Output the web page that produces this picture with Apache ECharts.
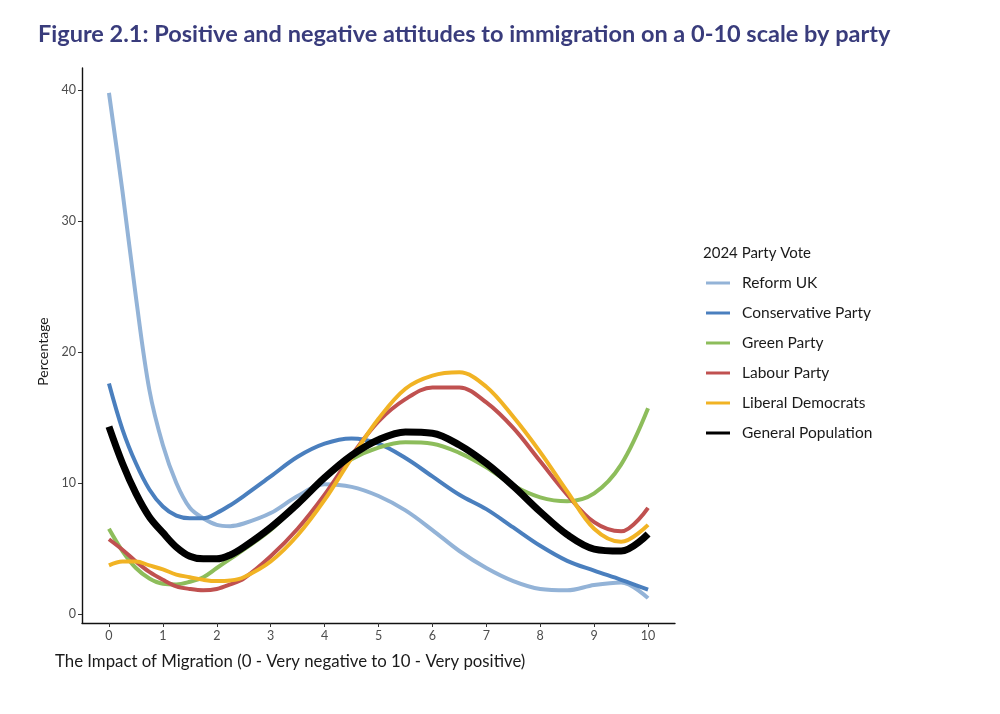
<!DOCTYPE html>
<html>
<head>
<meta charset="utf-8">
<script src="https://cdn.jsdelivr.net/npm/echarts@6/dist/echarts.min.js"></script>
<style>html,body{margin:0;padding:0;background:#fff}#c{width:1000px;height:714px}</style>
</head>
<body>
<div id="c"></div>
<script>
const xs = [0,0.25,0.5,0.75,1,1.25,1.5,1.75,2,2.25,2.5,3,3.5,4,4.5,5,5.5,6,6.5,7,7.5,8,8.5,9,9.5,10];
const reformUK     = [39.8,32.3,24.2,17.1,12.9,10.0,8.1,7.3,6.8,6.7,6.9,7.7,9.0,9.9,9.7,9.0,7.9,6.4,4.8,3.5,2.5,1.9,1.8,2.2,2.4,1.2];
const conservative = [17.6,14.1,11.5,9.5,8.2,7.5,7.3,7.3,7.7,8.3,9.0,10.5,12.0,13.0,13.4,13.0,11.9,10.5,9.1,8.0,6.6,5.2,4.05,3.3,2.6,1.85];
const green        = [6.5,4.8,3.5,2.7,2.3,2.25,2.45,2.8,3.5,4.2,4.9,6.4,8.4,10.3,11.8,12.7,13.1,13.0,12.3,11.2,9.8,8.9,8.6,9.2,11.4,15.7];
const labour       = [5.7,4.9,4.0,3.2,2.6,2.1,1.9,1.8,1.9,2.25,2.7,4.4,6.5,9.1,12.1,14.7,16.4,17.3,17.3,16.15,14.2,11.65,9.1,7.0,6.3,8.1];
const libDem       = [3.7,4.0,4.0,3.7,3.4,3.0,2.8,2.6,2.5,2.55,2.8,4.0,6.0,8.7,11.9,14.9,17.2,18.2,18.45,17.35,15.05,12.35,9.35,6.5,5.5,6.8];
const generalPop   = [14.3,11.5,9.2,7.4,6.2,5.1,4.4,4.2,4.2,4.5,5.1,6.6,8.4,10.4,12.1,13.3,13.9,13.8,12.9,11.5,9.75,7.8,6.05,4.95,4.8,6.1];
const seriesNames  = ['Reform UK','Conservative Party','Green Party','Labour Party','Liberal Democrats','General Population'];
const xTicks = [0,1,2,3,4,5,6,7,8,9,10];
const yTicks = [0,10,20,30,40];

const values = [reformUK, conservative, green, labour, libDem, generalPop];
const colors = ['#93b3d7','#4a7fbe','#8dbd5b','#c05150','#f1b324','#000000'];
const widths = [4,4,4,4,4,7];
const FONT = 'Lato';

const chart = echarts.init(document.getElementById('c'), null, {renderer:'canvas'});
chart.setOption({
  backgroundColor:'#ffffff',
  animation:false,
  title:[
    {text:'Figure 2.1: Positive and negative attitudes to immigration on a 0-10 scale by party',
     left:33, top:17,
     textStyle:{fontFamily:FONT, fontWeight:'bold', fontSize:23.5, color:'#393c7c'}},
    {text:'2024 Party Vote', left:698, top:241,
     textStyle:{fontFamily:FONT, fontWeight:'normal', fontSize:15, color:'#1a1a1a'}},
    {text:'The Impact of Migration (0 - Very negative to 10 - Very positive)', left:50, top:648,
     textStyle:{fontFamily:FONT, fontWeight:'normal', fontSize:16.8, color:'#1a1a1a'}}
  ],
  legend:{
    orient:'vertical', left:701, top:269,
    icon:'rect', itemWidth:24, itemHeight:3, itemGap:12,
    textStyle:{fontFamily:FONT, fontSize:15.5, color:'#1a1a1a', lineHeight:18, padding:[0,0,0,7]},
    data:seriesNames
  },
  grid:{left:82, right:325, top:68, bottom:91},
  xAxis:{
    type:'value', min:-0.5, max:10.5,
    axisLine:{show:true, onZero:false, lineStyle:{color:'#111', width:1.4}},
    axisTick:{show:true, customValues:xTicks, length:4, lineStyle:{color:'#333'}},
    axisLabel:{customValues:xTicks, fontFamily:FONT, fontSize:12.5, color:'#4d4d4d', margin:6},
    splitLine:{show:false}
  },
  yAxis:{
    type:'value', min:-0.7, max:41.7,
    name:'Percentage', nameLocation:'middle', nameGap:31, nameRotate:90,
    nameTextStyle:{fontFamily:FONT, fontSize:14, color:'#1a1a1a', padding:[0,0,0,-12]},
    axisLine:{show:true, onZero:false, lineStyle:{color:'#111', width:1.4}},
    axisTick:{show:true, customValues:yTicks, length:4, lineStyle:{color:'#333'}},
    axisLabel:{customValues:yTicks, fontFamily:FONT, fontSize:12.5, color:'#4d4d4d', margin:6},
    splitLine:{show:false}
  },
  series: seriesNames.map((n,i)=>({
    name:n, type:'line', smooth:0.35, showSymbol:false, symbol:'none',
    color:colors[i],
    lineStyle:{color:colors[i], width:widths[i], cap:'butt'},
    itemStyle:{color:colors[i]},
    data: xs.map((x,j)=>[x, values[i][j]]),
    z: 2+i
  }))
});
</script>
</body>
</html>
